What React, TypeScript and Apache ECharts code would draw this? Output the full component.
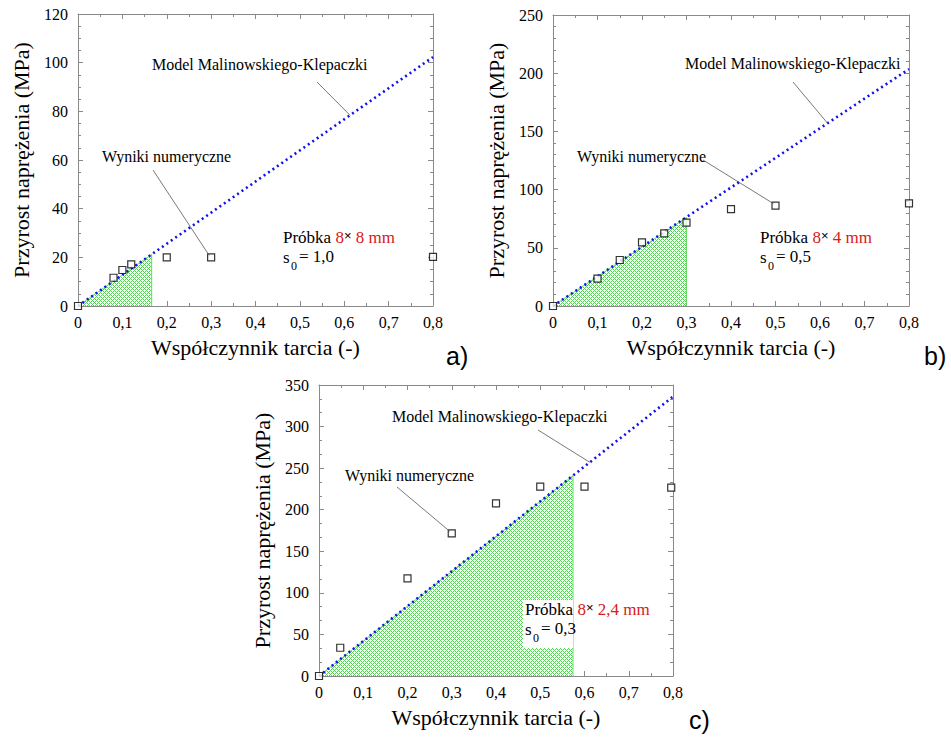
import React, { useEffect, useRef } from "react";
import * as echarts from "echarts";

// ---------------- data ----------------
const xMin = 0;
const xMax = 0.8;
const xInterval = 0.1;

// panel a) 8x8 mm, s0 = 1,0
const modelA = [[0, 0], [0.8, 102.3]];
const numA = [[0, 0], [0.08, 11.6], [0.1, 14.8], [0.12, 17.1], [0.2, 20.0], [0.3, 20.0], [0.8, 20.2]];
const shadeA = [[0, 0], [0.166, 21.2], [0.166, 0]];

// panel b) 8x4 mm, s0 = 0,5
const modelB = [[0, 0], [0.8, 203.6]];
const numB = [[0, 0], [0.1, 23.5], [0.15, 39.5], [0.2, 54.7], [0.25, 62.4], [0.3, 71.6], [0.4, 83.3], [0.5, 86.2], [0.8, 88.2]];
const shadeB = [[0, 0], [0.3, 76.0], [0.3, 0]];

// panel c) 8x2,4 mm, s0 = 0,3
const modelC = [[0, 0], [0.8, 336]];
const numC = [[0, 0], [0.048, 34], [0.2, 117.5], [0.3, 171.6], [0.4, 207.7], [0.5, 227.7], [0.6, 227.7], [0.796, 226.5]];
const shadeC = [[0, 0], [0.574, 241], [0.574, 0]];

const yMaxes = [120, 250, 350];
const yIntervals = [20, 50, 50];
const yMinorSplits = [4, 5, 3];
const sampleSizes = ["8 mm", "4 mm", "2,4 mm"];
const s0Values = ["1,0", "0,5", "0,3"];
const panelLetters = ["a)", "b)", "c)"];
// leader-line targets (data coordinates)
const modelLeaderX = [0.613, 0.617, 0.612];
const numLeaderPoint = [[0.3, 20.0], [0.5, 86.2], [0.3, 171.6]];

const xName = "Współczynnik tarcia (-)";
const yName = "Przyrost naprężenia (MPa)";
const modelLabel = "Model Malinowskiego-Klepaczki";
const numLabel = "Wyniki numeryczne";

// ---------------- layout ----------------
const grids = [
  { left: 78, top: 14, width: 355, height: 292 },
  { left: 553, top: 15, width: 356, height: 291 },
  { left: 319, top: 385, width: 354, height: 291 },
];
const layout = [
  { model: [152, 64], modelFrom: [317, 82], num: [102, 156], numFrom: [153, 170], probka: [283, 237], letter: [446, 356] },
  { model: [685, 63], modelFrom: [793, 82], num: [577, 156], numFrom: [703, 160], probka: [760, 237], letter: [924, 356] },
  { model: [392, 416], modelFrom: [538, 430], num: [345, 475], numFrom: [397, 487], probka: [525, 609], letter: [689, 720] },
];

const SERIF = "Liberation Serif";
const SANS = "Liberation Sans";
const AXIS_GRAY = "#8a8a8a";

const fmt = (v: number) => String(Math.round(v * 1000) / 1000).replace(".", ",");

function makePattern() {
  const n = 4;
  const c = document.createElement("canvas");
  c.width = n;
  c.height = n;
  const ctx = c.getContext("2d")!;
  ctx.fillStyle = "#ffffff";
  ctx.fillRect(0, 0, n, n);
  ctx.fillStyle = "#4cd64c";
  for (let i = 0; i < n; i++) {
    for (let j = 0; j < n; j++) {
      if ((i + j) % n === 0 || ((i - j + n) % n) === 0) ctx.fillRect(i, j, 1, 1);
    }
  }
  return c;
}

export default function App() {
  const ref = useRef<HTMLDivElement>(null);

  useEffect(() => {
    if (!ref.current) return;
    const chart = echarts.init(ref.current, undefined, { renderer: "svg" });

    const models = [modelA, modelB, modelC];
    const nums = [numA, numB, numC];
    const shades = [shadeA, shadeB, shadeC];

    const pattern = makePattern();

    const xAxes: any[] = [];
    const yAxes: any[] = [];
    const series: any[] = [];

    grids.forEach((g, i) => {
      const baseX = {
        gridIndex: i,
        type: "value",
        min: xMin,
        max: xMax,
        interval: xInterval,
        axisLine: { show: true, onZero: false, lineStyle: { color: AXIS_GRAY, width: 1 } },
        axisTick: { show: true, inside: true, length: 5, lineStyle: { color: AXIS_GRAY } },
        minorTick: { show: true, splitNumber: 2, length: 3, lineStyle: { color: AXIS_GRAY } },
        splitLine: { show: false },
      };
      xAxes.push({
        ...baseX,
        position: "bottom",
        name: xName,
        nameLocation: "middle",
        nameGap: 30,
        nameTextStyle: { fontFamily: SERIF, fontSize: 22, color: "#000" },
        axisLabel: { show: true, formatter: fmt, fontFamily: SERIF, fontSize: 16, color: "#000", margin: 8 },
      });
      xAxes.push({ ...baseX, position: "top", axisLabel: { show: false } });

      const baseY = {
        gridIndex: i,
        type: "value",
        min: 0,
        max: yMaxes[i],
        interval: yIntervals[i],
        axisLine: { show: true, onZero: false, lineStyle: { color: AXIS_GRAY, width: 1 } },
        axisTick: { show: true, inside: true, length: 5, lineStyle: { color: AXIS_GRAY } },
        minorTick: { show: true, splitNumber: yMinorSplits[i], length: 3, lineStyle: { color: AXIS_GRAY } },
        splitLine: { show: false },
      };
      yAxes.push({
        ...baseY,
        position: "left",
        name: yName,
        nameLocation: "middle",
        nameGap: 46,
        nameTextStyle: { fontFamily: SERIF, fontSize: 22, color: "#000" },
        axisLabel: { show: true, formatter: fmt, fontFamily: SERIF, fontSize: 16, color: "#000", margin: 10 },
      });
      yAxes.push({ ...baseY, position: "right", axisLabel: { show: false } });

      series.push({
        type: "line",
        xAxisIndex: 2 * i,
        yAxisIndex: 2 * i,
        data: shades[i],
        symbol: "none",
        lineStyle: { color: "#66dd66", width: 1 },
        areaStyle: {
          color: { image: pattern, repeat: "repeat", imageWidth: 4, imageHeight: 4 } as any,
          opacity: 1,
        },
        z: 1,
      });
      series.push({
        type: "line",
        xAxisIndex: 2 * i,
        yAxisIndex: 2 * i,
        data: models[i],
        symbol: "none",
        lineStyle: { color: "#1010ee", width: 2.6, type: [2, 3.4] },
        z: 3,
      });
      series.push({
        type: "scatter",
        xAxisIndex: 2 * i,
        yAxisIndex: 2 * i,
        data: nums[i],
        symbol: "rect",
        symbolSize: 7,
        itemStyle: { color: "#ffffff", borderColor: "#000", borderWidth: 1.2 },
        z: 5,
      });
    });

    chart.setOption({
      animation: false,
      backgroundColor: "#ffffff",
      grid: grids.map((g) => ({ ...g, containLabel: false })),
      xAxis: xAxes,
      yAxis: yAxes,
      series,
    });

    const graphic: any[] = [];
    grids.forEach((g, i) => {
      const L = layout[i];
      const slope = models[i][1][1] / models[i][1][0];
      const mTarget = chart.convertToPixel({ gridIndex: i } as any, [modelLeaderX[i], slope * modelLeaderX[i]]) as number[];
      const nTarget = chart.convertToPixel({ gridIndex: i } as any, numLeaderPoint[i]) as number[];

      if (i === 2) {
        graphic.push({
          type: "rect",
          shape: { x: L.probka[0] - 2, y: L.probka[1] - 9, width: 50, height: 48 },
          style: { fill: "#ffffff" },
          z: 50,
        });
      }
      graphic.push({
        type: "line",
        shape: { x1: L.modelFrom[0], y1: L.modelFrom[1], x2: mTarget[0], y2: mTarget[1] },
        style: { stroke: "#555", lineWidth: 0.8 },
        z: 60,
      });
      graphic.push({
        type: "line",
        shape: { x1: L.numFrom[0], y1: L.numFrom[1], x2: nTarget[0] - 2, y2: nTarget[1] - 2 },
        style: { stroke: "#555", lineWidth: 0.8 },
        z: 60,
      });
      graphic.push({
        type: "text",
        x: L.model[0],
        y: L.model[1],
        style: { text: modelLabel, fontFamily: SERIF, fontSize: 16, fill: "#000", align: "left", verticalAlign: "middle" },
        z: 61,
      });
      graphic.push({
        type: "text",
        x: L.num[0],
        y: L.num[1],
        style: { text: numLabel, fontFamily: SERIF, fontSize: 16, fill: "#000", align: "left", verticalAlign: "middle" },
        z: 61,
      });
      graphic.push({
        type: "text",
        x: L.probka[0],
        y: L.probka[1],
        style: {
          text: `{b|Próbka }{r|8}{x|×}{r| ${sampleSizes[i]}}`,
          align: "left",
          verticalAlign: "middle",
          rich: {
            b: { fontFamily: SERIF, fontSize: 17, fill: "#000" },
            r: { fontFamily: SERIF, fontSize: 17, fill: "#d42020" },
            x: { fontFamily: SANS, fontSize: 13, fill: "#000", verticalAlign: "top" },
          },
        },
        z: 61,
      });
      graphic.push({
        type: "text",
        x: L.probka[0],
        y: L.probka[1] + 20,
        style: { text: "s", fontFamily: SERIF, fontSize: 17, fill: "#000", align: "left", verticalAlign: "middle" },
        z: 61,
      });
      graphic.push({
        type: "text",
        x: L.probka[0] + 8,
        y: L.probka[1] + 29,
        style: { text: "0", fontFamily: SERIF, fontSize: 12, fill: "#000", align: "left", verticalAlign: "middle" },
        z: 61,
      });
      graphic.push({
        type: "text",
        x: L.probka[0] + 16,
        y: L.probka[1] + 19,
        style: { text: `= ${s0Values[i]}`, fontFamily: SERIF, fontSize: 17, fill: "#000", align: "left", verticalAlign: "middle" },
        z: 61,
      });
      graphic.push({
        type: "text",
        x: L.letter[0],
        y: L.letter[1],
        style: { text: panelLetters[i], fontFamily: SANS, fontSize: 25, fill: "#000", align: "left", verticalAlign: "middle" },
        z: 61,
      });
    });

    chart.setOption({ graphic });

    return () => chart.dispose();
  }, []);

  return (
    <div
      ref={ref}
      style={{ position: "fixed", left: 0, top: 0, width: 951, height: 738, background: "#fff" }}
    />
  );
}
